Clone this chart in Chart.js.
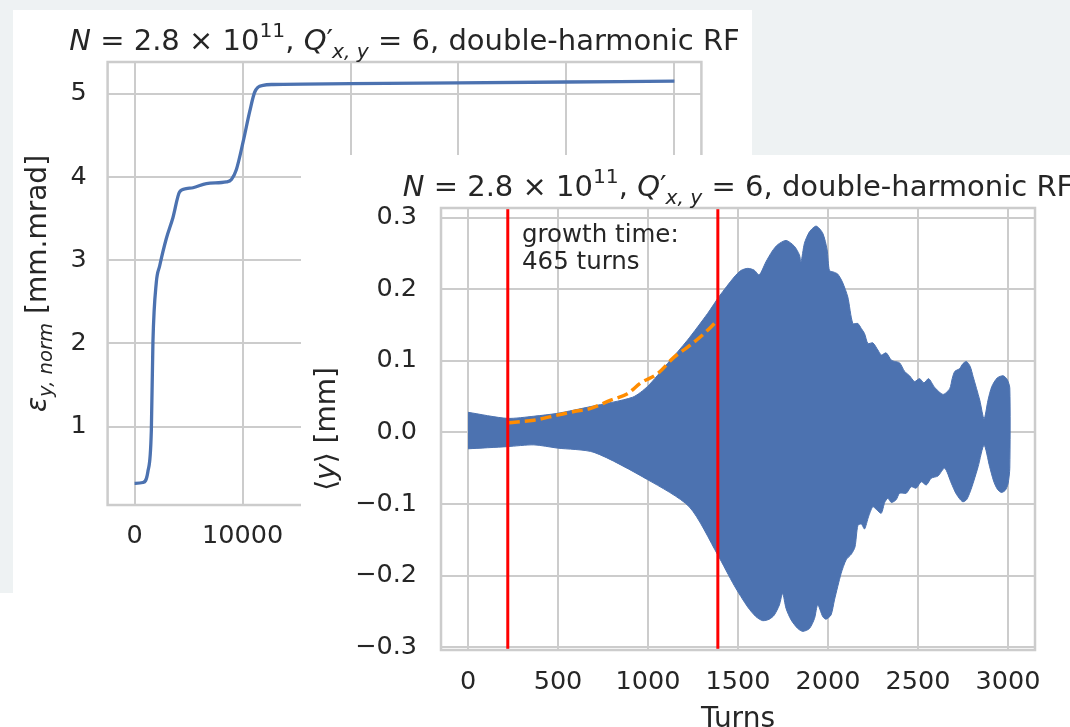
<!DOCTYPE html>
<html>
<head>
<meta charset="utf-8">
<title>Emittance growth and centroid oscillation</title>
<script src="https://cdn.jsdelivr.net/npm/chart.js@4.4.1/dist/chart.umd.min.js"></script>
<style>
  html, body { margin: 0; padding: 0; background: #fff; }
  body { width: 1070px; height: 727px; position: relative; overflow: hidden; }
  #backdrop { position: absolute; left: 0; top: 0; width: 1070px; height: 593px; background: #eef2f3; }
  .panel { position: absolute; background: #fff; }
  #panel-emit { left: 13px; top: 10px; width: 739px; height: 583px; }
  #panel-pos { left: 301px; top: 155px; width: 769px; height: 572px; }
  canvas { display: block; }
</style>
</head>
<body>
<div id="backdrop"></div>
<div class="panel" id="panel-emit"><canvas id="emit-canvas" width="739" height="583"></canvas></div>
<div class="panel" id="panel-pos"><canvas id="pos-canvas" width="769" height="572"></canvas></div>
<script>
// Two overlapping panels: emittance vs turns (back) and <y> vs turns (front).

// --- back panel: normalised vertical emittance ---
const emitTurns = [0, 770, 1230, 1550, 1700, 2010, 2320, 2940, 3550, 4170, 4790, 5410, 6650, 8500, 8970,
  9430, 10050, 10670, 11130, 11900, 12830, 20000, 30000, 40000, 50000];
const emitVals = [0.32, 0.33, 0.46, 0.95, 2.02, 2.73, 2.93, 3.26, 3.51, 3.82, 3.86, 3.87, 3.92, 3.94, 3.97,
  4.09, 4.42, 4.79, 5.02, 5.10, 5.11, 5.12, 5.13, 5.14, 5.15];
const emitXTicks = [0, 10000, 20000, 30000, 40000, 50000];
const emitYTicks = [1, 2, 3, 4, 5];

// --- front panel: centroid envelope (upper / lower edge of the fast oscillation) ---
const upperTurns = [0, 218, 366, 496, 682, 914, 997, 1108, 1220, 1331, 1396, 1479, 1516, 1554, 1590, 1618,
  1655, 1690, 1720, 1767, 1813, 1841, 1850, 1869, 1897, 1934, 1971, 1995, 2008, 2030, 2054, 2080, 2110,
  2138, 2166, 2185, 2203, 2222, 2249, 2277, 2296, 2323, 2351, 2370, 2398, 2426, 2453, 2481, 2509, 2533,
  2559, 2592, 2639, 2676, 2690, 2704, 2731, 2750, 2769, 2790, 2806, 2843, 2867, 2889, 2910, 2940, 2973,
  2995, 3010];
const upperVals = [0.028, 0.0195, 0.0225, 0.0265, 0.036, 0.049, 0.064, 0.096, 0.129, 0.166, 0.19, 0.217,
  0.226, 0.229, 0.2265, 0.220, 0.238, 0.253, 0.262, 0.268, 0.260, 0.248, 0.238, 0.264, 0.280, 0.288, 0.278,
  0.255, 0.226, 0.224, 0.221, 0.210, 0.189, 0.152, 0.152, 0.145, 0.138, 0.124, 0.125, 0.115, 0.108, 0.111,
  0.101, 0.099, 0.097, 0.085, 0.079, 0.071, 0.075, 0.069, 0.075, 0.063, 0.053, 0.061, 0.075, 0.085, 0.089,
  0.096, 0.099, 0.092, 0.078, 0.045, 0.019, 0.045, 0.064, 0.076, 0.079, 0.074, 0.062];
const lowerTurns = [0, 218, 366, 496, 700, 997, 1229, 1387, 1479, 1554, 1600, 1637, 1674, 1702, 1730, 1748,
  1767, 1795, 1832, 1860, 1897, 1925, 1943, 1971, 1989, 2017, 2036, 2073, 2101, 2130, 2150, 2166, 2185,
  2203, 2225, 2249, 2270, 2296, 2315, 2333, 2352, 2379, 2398, 2435, 2462, 2490, 2518, 2546, 2574, 2611,
  2648, 2685, 2710, 2735, 2750, 2770, 2790, 2810, 2834, 2867, 2898, 2920, 2940, 2963, 2985, 3000, 3010];
const lowerVals = [-0.023, -0.020, -0.0175, -0.022, -0.028, -0.066, -0.104, -0.171, -0.214, -0.244, -0.2575,
  -0.263, -0.261, -0.255, -0.241, -0.225, -0.246, -0.262, -0.274, -0.278, -0.274, -0.260, -0.241, -0.2575,
  -0.261, -0.255, -0.234, -0.197, -0.178, -0.170, -0.160, -0.130, -0.128, -0.135, -0.118, -0.104, -0.108,
  -0.113, -0.098, -0.092, -0.098, -0.094, -0.085, -0.085, -0.076, -0.078, -0.069, -0.0735, -0.064, -0.061,
  -0.050, -0.071, -0.085, -0.094, -0.097, -0.094, -0.083, -0.068, -0.048, -0.018, -0.048, -0.068, -0.079,
  -0.084, -0.081, -0.072, -0.050];

// exponential growth fit (dashed) and the window limits (red)
const fitTurns = [227, 366, 496, 589, 682, 793, 886, 960, 1053, 1145, 1220, 1312, 1377];
const fitVals = [0.0134, 0.017, 0.024, 0.029, 0.0335, 0.045, 0.054, 0.069, 0.082, 0.105, 0.119, 0.138, 0.154];
const windowTurns = [221, 1388];
const growthLabel = ['growth time:', '465 turns'];
const growthAt = {x: 300, y: 0.266};

const posXTicks = [0, 500, 1000, 1500, 2000, 2500, 3000];
const posYTicks = [-0.3, -0.2, -0.1, 0.0, 0.1, 0.2, 0.3];
const POS_YMIN = -0.304, POS_YMAX = 0.3133;

const BLUE = '#4c72b0';
const GRID = '#cccccc';
const INK = '#262626';
const FONT = "'DejaVu Sans', sans-serif";
const TICK_SIZE = 25.5;

// title: N = 2.8 x 10^11, Q'_{x,y} = 6, double-harmonic RF
const titleParts = [
  {t: 'N', it: true},
  {t: ' = 2.8 × 10'},
  {t: '11', s: 0.7, dy: -0.42},
  {t: ', '},
  {t: 'Q', it: true},
  {t: '′'},
  {t: 'x, y', it: true, s: 0.7, dy: 0.3, dx: -0.04},
  {t: ' = 6, double-harmonic RF'}
];
const emitLabelParts = [
  {t: 'ε', it: true},
  {t: 'y, norm', it: true, s: 0.7, dy: 0.3},
  {t: ' [mm.mrad]'}
];
const posLabelParts = [
  {t: '⟨'}, {t: 'y', it: true}, {t: '⟩'}, {t: ' [mm]'}
];

function partFont(p, size) {
  return (p.it ? 'italic ' : '') + (size * (p.s || 1)).toFixed(2) + 'px ' + FONT;
}

function richWidth(ctx, parts, size) {
  let w = 0;
  for (const p of parts) {
    ctx.font = partFont(p, size);
    w += ctx.measureText(p.t).width + (p.dx || 0) * size;
  }
  return w;
}

function drawRich(ctx, parts, cx, y, size) {
  let x = cx - richWidth(ctx, parts, size) / 2;
  ctx.textAlign = 'left';
  for (const p of parts) {
    ctx.font = partFont(p, size);
    x += (p.dx || 0) * size;
    ctx.fillText(p.t, x, y + (p.dy || 0) * size);
    x += ctx.measureText(p.t).width;
  }
}

// frame + titles + axis labels, drawn on top of the chart
const decorPlugin = {
  id: 'decor',
  afterDatasetsDraw(chart, _args, opts) {
    const {ctx, chartArea: a} = chart;
    ctx.save();
    ctx.strokeStyle = GRID;
    ctx.lineWidth = 2.5;
    ctx.strokeRect(a.left, a.top, a.right - a.left, a.bottom - a.top);

    ctx.fillStyle = INK;
    ctx.textBaseline = 'alphabetic';
    const cx = (a.left + a.right) / 2;
    drawRich(ctx, titleParts, cx, a.top - 12.5, opts.titleSize);

    ctx.save();
    ctx.translate(opts.yLabelX, (a.top + a.bottom) / 2);
    ctx.rotate(-Math.PI / 2);
    ctx.textBaseline = 'middle';
    drawRich(ctx, opts.yLabel, 0, 0, opts.labelSize);
    ctx.restore();

    if (opts.xLabel) {
      ctx.textBaseline = 'alphabetic';
      drawRich(ctx, [{t: opts.xLabel}], cx, opts.xLabelY, opts.labelSize);
    }
    if (opts.note) {
      const sx = chart.scales.x, sy = chart.scales.y;
      ctx.font = opts.noteSize + 'px ' + FONT;
      ctx.textAlign = 'left';
      const nx = sx.getPixelForValue(growthAt.x);
      const ny = sy.getPixelForValue(growthAt.y);
      growthLabel.forEach((line, i) => ctx.fillText(line, nx, ny + i * 26.7));
    }
    ctx.restore();
  }
};

function axisBase(tickList, fmt, pad, fit) {
  return {
    type: 'linear',
    afterBuildTicks: s => { s.ticks = tickList.map(v => ({value: v})); },
    afterFit: fit,
    grid: {color: GRID, lineWidth: 2, drawTicks: false},
    border: {display: false},
    ticks: {
      autoSkip: false, maxRotation: 0, padding: pad, color: INK,
      font: {family: FONT, size: TICK_SIZE, lineHeight: 1},
      callback: fmt
    }
  };
}

const minusFmt = v => (v < 0 ? '\u2212' : '') + Math.abs(v).toFixed(1);

new Chart(document.getElementById('emit-canvas'), {
  type: 'line',
  data: {
    datasets: [{
      data: emitTurns.map((t, i) => ({x: t, y: emitVals[i]})),
      borderColor: BLUE,
      borderWidth: 3.3,
      pointRadius: 0,
      cubicInterpolationMode: 'monotone',
      fill: false
    }]
  },
  options: {
    responsive: false,
    animation: false,
    events: [],
    layout: {padding: {left: 0, top: 52, right: 50.6, bottom: 0}},
    plugins: {
      legend: {display: false},
      tooltip: {enabled: false},
      decor: {titleSize: 29, labelSize: 28, yLabelX: 26, yLabel: emitLabelParts}
    },
    scales: {
      x: Object.assign(axisBase(emitXTicks, v => String(v), 19, s => { s.height = 88; }), {min: -2500, max: 52500}),
      y: Object.assign(axisBase(emitYTicks, v => String(v), 21, s => { s.width = 94.6; }), {min: 0.06, max: 5.38})
    }
  },
  plugins: [decorPlugin]
});

const envelope = upperTurns.map((t, i) => ({x: t, y: upperVals[i]}))
  .concat(lowerTurns.map((t, i) => ({x: t, y: lowerVals[i]})).reverse());

new Chart(document.getElementById('pos-canvas'), {
  type: 'line',
  data: {
    datasets: [
      ...windowTurns.map(t => ({
        data: [{x: t, y: POS_YMIN}, {x: t, y: POS_YMAX}],
        borderColor: '#ff0000',
        borderWidth: 3,
        pointRadius: 0,
        fill: false
      })),
      {
        data: fitTurns.map((t, i) => ({x: t, y: fitVals[i]})),
        borderColor: '#ff8c00',
        borderWidth: 3.5,
        borderDash: [11, 5],
        pointRadius: 0,
        cubicInterpolationMode: 'monotone',
        fill: false
      },
      {
        data: envelope,
        borderColor: BLUE,
        backgroundColor: BLUE,
        borderWidth: 1,
        pointRadius: 0,
        tension: 0.25,
        fill: 'shape'
      }
    ]
  },
  options: {
    responsive: false,
    animation: false,
    events: [],
    layout: {padding: {left: 0, top: 53, right: 35, bottom: 0}},
    plugins: {
      legend: {display: false},
      tooltip: {enabled: false},
      decor: {titleSize: 29, labelSize: 28, yLabelX: 27, yLabel: posLabelParts,
        xLabel: 'Turns', xLabelY: 572, note: true, noteSize: 24.5}
    },
    scales: {
      x: Object.assign(axisBase(posXTicks, v => String(v), 20, s => { s.height = 77; }), {min: -150, max: 3150}),
      y: Object.assign(axisBase(posYTicks, minusFmt, 24, s => { s.width = 140; }), {min: POS_YMIN, max: POS_YMAX})
    }
  },
  plugins: [decorPlugin]
});
</script>
</body>
</html>
